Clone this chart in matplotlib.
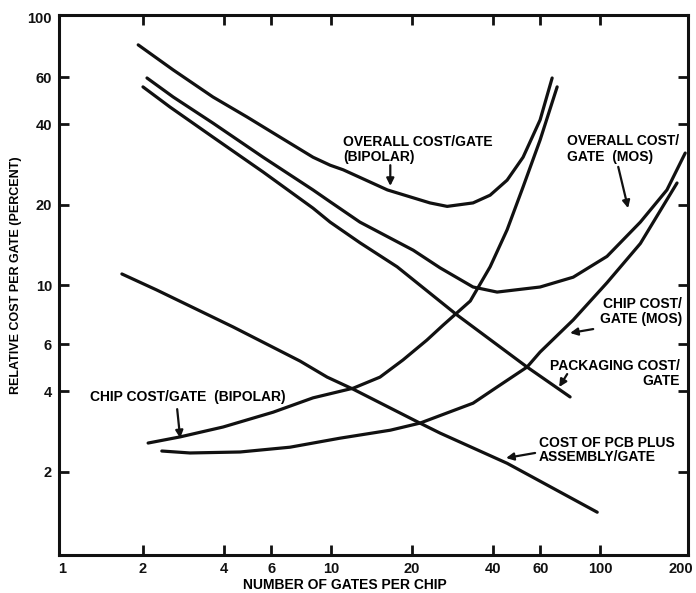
import matplotlib
matplotlib.use("Agg")
import matplotlib.pyplot as plt

plt.rcParams['font.family'] = ['Liberation Sans', 'DejaVu Sans']
plt.rcParams['font.weight'] = 'bold'

# curves (gates per chip, relative cost %)
bip_overall_x = [1.92, 2.59, 3.64, 4.87, 6.46, 8.57, 9.92, 11.1, 16.2, 23.3, 27.0, 33.7, 39.0, 45.1, 51.7, 59.8, 66.3]
bip_overall_y = [79.3, 63.9, 50.6, 42.6, 35.8, 30.1, 28.1, 27.0, 22.7, 20.3, 19.7, 20.3, 21.7, 24.7, 30.1, 41.5, 59.6]

chip_bip_x = [2.09, 2.75, 3.97, 6.09, 8.57, 12.1, 15.2, 18.5, 22.7, 26.1, 32.9, 39.0, 45.1, 51.7, 59.8, 69.2]
chip_bip_y = [2.56, 2.70, 2.94, 3.34, 3.78, 4.11, 4.52, 5.24, 6.22, 7.08, 8.71, 11.7, 16.1, 23.3, 34.9, 55.2]

mos_overall_x = [2.07, 2.59, 3.64, 5.59, 8.57, 9.92, 12.8, 15.2, 20.2, 25.4, 33.7, 41.4, 59.8, 79.4, 106, 141, 177, 207]
mos_overall_y = [59.6, 50.6, 40.4, 30.1, 22.7, 20.5, 17.2, 15.7, 13.5, 11.6, 9.83, 9.41, 9.83, 10.7, 12.8, 17.2, 22.7, 31.2]

packaging_x = [2.00, 2.52, 3.64, 5.59, 8.57, 9.92, 12.8, 17.6, 29.4, 53.5, 77.3]
packaging_y = [55.2, 46.4, 35.8, 26.5, 19.4, 17.2, 14.4, 11.7, 7.72, 4.93, 3.81]

chip_mos_x = [2.35, 2.99, 4.59, 7.04, 10.8, 16.6, 21.4, 33.7, 41.4, 53.5, 59.8, 79.4, 106, 141, 193]
chip_mos_y = [2.39, 2.35, 2.37, 2.47, 2.67, 2.86, 3.04, 3.61, 4.15, 4.93, 5.61, 7.40, 10.2, 14.3, 24.1]

pcb_x = [1.67, 2.25, 4.32, 7.67, 9.67, 12.1, 21.4, 25.4, 45.1, 97.5]
pcb_y = [11.0, 9.58, 6.97, 5.19, 4.52, 4.07, 3.04, 2.79, 2.15, 1.41]

xticks = [1, 2, 4, 6, 10, 20, 40, 60, 100, 200]
yticks = [2, 4, 6, 10, 20, 40, 60, 100]

ink = '#111111'

fig = plt.figure(figsize=(6.96, 5.93), dpi=100)
ax = fig.add_axes([59 / 696, 1 - 555 / 593, 629 / 696, 540 / 593])

for xs, ys in [(bip_overall_x, bip_overall_y), (chip_bip_x, chip_bip_y),
               (mos_overall_x, mos_overall_y), (packaging_x, packaging_y),
               (chip_mos_x, chip_mos_y), (pcb_x, pcb_y)]:
    ax.plot(xs, ys, color=ink, lw=2.3, solid_capstyle='round', solid_joinstyle='round')

ax.set_xscale('log')
ax.set_yscale('log')
ax.set_xlim(0.975, 212)
ax.set_ylim(0.975, 102.6)

ax.set_xticks(xticks)
ax.set_xticklabels([str(t) for t in xticks])
ax.set_yticks(yticks)
ax.set_yticklabels([str(t) for t in yticks])
ax.minorticks_off()
ax.tick_params(direction='in', length=7, width=2, colors=ink, labelsize=10.5,
               top=True, right=True, pad=5)
for lab in ax.get_xticklabels() + ax.get_yticklabels():
    lab.set_fontweight('bold')
# no tick marks at the corners, only the labels
for t in [ax.xaxis.get_major_ticks()[0], ax.xaxis.get_major_ticks()[-1], ax.yaxis.get_major_ticks()[-1]]:
    t.tick1line.set_visible(False)
    t.tick2line.set_visible(False)
for sp in ax.spines.values():
    sp.set_linewidth(2.2)
    sp.set_color(ink)

ax.set_xlabel('NUMBER OF GATES PER CHIP', fontsize=10, fontweight='bold')
ax.set_ylabel('RELATIVE COST PER GATE (PERCENT)', fontsize=9, fontweight='bold')
ax.xaxis.set_label_coords(0.455, -0.043)
ax.yaxis.set_label_coords(-0.059, 0.519)

arrow = dict(arrowstyle='-|>', color=ink, lw=1.6, mutation_scale=11, shrinkA=0, shrinkB=0)
fs = 10

ax.text(11.1, 32.1, 'OVERALL COST/GATE\n(BIPOLAR)', fontsize=fs, fontweight='bold',
        ha='left', va='center', linespacing=1.1)
ax.annotate('', xy=(16.6, 23.5), xytext=(16.6, 28.1), arrowprops=arrow)

ax.text(75.4, 32.3, 'OVERALL COST/\nGATE  (MOS)', fontsize=fs, fontweight='bold',
        ha='left', va='center', linespacing=1.1)
ax.annotate('', xy=(127, 19.4), xytext=(116.7, 27.7), arrowprops=arrow)

ax.text(202, 7.93, 'CHIP COST/\nGATE (MOS)', fontsize=fs, fontweight='bold',
        ha='right', va='center', linespacing=1.1)
ax.annotate('', xy=(77.3, 6.61), xytext=(94.2, 6.84), arrowprops=arrow)

ax.text(197, 4.68, 'PACKAGING COST/\nGATE', fontsize=fs, fontweight='bold',
        ha='right', va='center', linespacing=1.1, multialignment='right')
ax.annotate('', xy=(70.4, 4.15), xytext=(75.4, 4.64), arrowprops=arrow)

ax.text(59.3, 2.41, 'COST OF PCB PLUS\nASSEMBLY/GATE', fontsize=fs, fontweight='bold',
        ha='left', va='center', linespacing=1.0)
ax.annotate('', xy=(44.7, 2.25), xytext=(57.3, 2.35), arrowprops=arrow)

ax.text(1.27, 3.81, 'CHIP COST/GATE  (BIPOLAR)', fontsize=fs, fontweight='bold',
        ha='left', va='center')
ax.annotate('', xy=(2.75, 2.67), xytext=(2.68, 3.43), arrowprops=arrow)

fig.savefig('out.png', dpi=100)
